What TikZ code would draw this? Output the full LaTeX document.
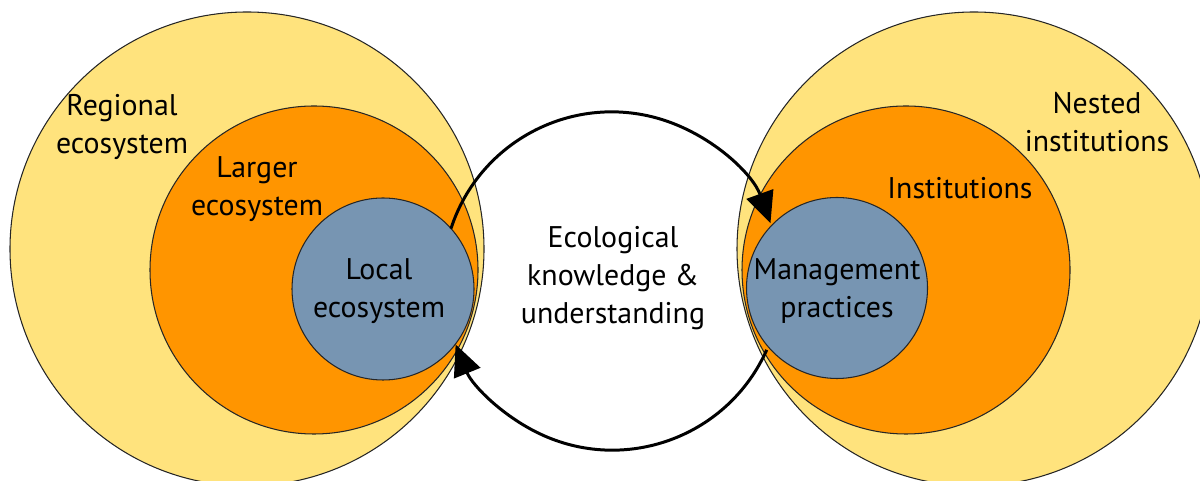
\documentclass[tikz,border=0pt]{standalone}
\usepackage{fontspec}
\setmainfont{PT Sans}
\usepackage{xcolor}
\usepackage{tikz}
\usetikzlibrary{calc}
\usetikzlibrary{arrows.meta}
\definecolor{paleyellow}{RGB}{255,227,125}
\definecolor{deeporange}{RGB}{255,149,0}
\definecolor{slateblue}{RGB}{119,149,178}
\tikzset{
 ring/.style={circle, draw=black!85, semithick, inner sep=0},
 lbl/.style={align=center, font=\fontsize{17}{21.5}\selectfont, inner sep=1},
}

\begin{document}
\begin{tikzpicture}
\useasboundingbox (0,0) rectangle (24,9.62);
\clip (0,0) rectangle (24,9.62);
% ecosystem side
\node[ring, fill=paleyellow, minimum size=9.48cm] (regional) at (4.94,4.64) {};
\node[ring, fill=deeporange, minimum size=6.56cm] (larger) at (6.28,4.22) {};
\node[ring, fill=slateblue, minimum size=3.64cm] (local) at (7.66,3.84) {};
% institution side
\node[ring, fill=paleyellow, minimum size=9.48cm] (nested) at (19.48,4.64) {};
\node[ring, fill=deeporange, minimum size=6.56cm] (inst) at (18.12,4.22) {};
\node[ring, fill=slateblue, minimum size=3.62cm] (mgmt) at (16.74,3.86) {};
% feedback loop
\node[circle, minimum size=6.76cm, inner sep=0] (loop) at (12.24,4.0) {};
\draw[black, line width=1.7pt, ->, >={Triangle[length=0.62cm,width=0.56cm]}]
 (loop.162) arc[start angle=162, end angle=20, radius=3.38];
\draw[black, line width=1.7pt, ->, >={Triangle[length=0.62cm,width=0.56cm]}]
 (loop.-24) arc[start angle=-24, end angle=-158, radius=3.38];
% labels
\node[lbl] (tregional) at (2.44,7.08) {Regional\\ecosystem};
\node[lbl] (tlarger) at (5.14,5.84) {Larger\\ecosystem};
\node[lbl] (tlocal) at (7.58,3.8) {Local\\ecosystem};
\node[lbl] (tloop) at (12.26,4.06) {Ecological\\knowledge \&\\understanding};
\node[lbl] (tmgmt) at (16.74,3.8) {Management\\practices};
\node[lbl] (tinst) at (19.2,5.86) {Institutions};
\node[lbl] (tnested) at (21.94,7.18) {Nested\\institutions};
\end{tikzpicture}
\end{document}
